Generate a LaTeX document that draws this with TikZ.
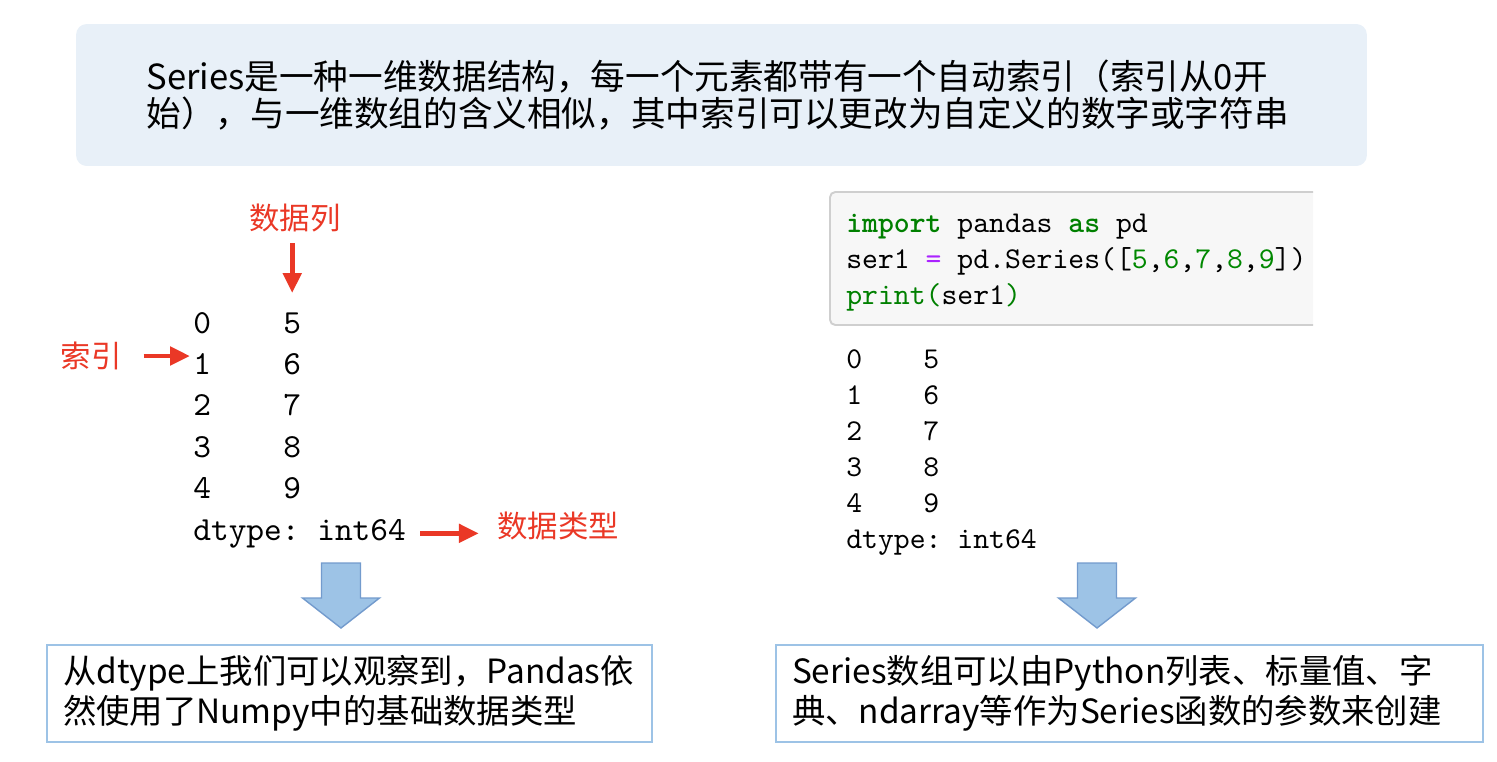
\documentclass[tikz,border=0pt]{standalone}
\usepackage{fontspec}
\setmainfont{Noto Sans CJK SC}
\newfontfamily\codefont{lmmono10-regular.otf}[BoldFont=lmmonolt10-bold.otf]
\usetikzlibrary{arrows.meta,calc,positioning}
\definecolor{topfill}{RGB}{232,240,248}
\definecolor{noteblue}{RGB}{157,195,230}
\definecolor{arrowedge}{RGB}{115,155,205}
\definecolor{labelred}{RGB}{234,56,38}
\definecolor{cellfill}{RGB}{247,247,247}
\definecolor{celledge}{RGB}{207,207,207}
\definecolor{kwgreen}{RGB}{0,128,0}
\definecolor{oppurple}{RGB}{170,34,255}
\definecolor{numgreen}{RGB}{0,136,0}
\newcommand{\kw}[1]{\textcolor{kwgreen}{\bfseries #1}}
\newcommand{\num}[1]{\textcolor{numgreen}{#1}}
\tikzset{topbox/.style={fill=topfill,rounded corners=6pt,minimum width=25.82cm,minimum height=2.84cm,
    text width=23cm,align=left,inner sep=0pt,font=\fontsize{19.7}{21.5}\selectfont},
  notebox/.style={draw=noteblue,line width=1.1pt,fill=white,minimum height=1.94cm,inner sep=0pt,
    align=left,font=\fontsize{19}{22.7}\selectfont},
  redlbl/.style={text=labelred,inner sep=0pt,font=\fontsize{17.3}{20}\selectfont},
  redarr/.style={-{Triangle[length=4mm,width=3.6mm]},draw=labelred,line width=2.8pt},
  outbig/.style={anchor=base west,inner sep=0pt,font=\codefont\fontsize{19.2}{23}\selectfont},
  outsmall/.style={anchor=base west,inner sep=0pt,font=\codefont\fontsize{17.2}{20}\selectfont},
  bigarrow/.style={fill=noteblue,draw=arrowedge,line width=0.8pt}}

\begin{document}
\begin{tikzpicture}[x=0.02cm,y=-0.02cm]
\useasboundingbox (0,0) rectangle (1497,761);
\node[topbox] (intro) at (721.5,95) {Series是一种一维数据结构，每一个元素都带有一个自动索引（索引从0开\\始），与一维数组的含义相似，其中索引可以更改为自定义的数字或字符串};

% printed series, left
\foreach \i/\v in {0/5,1/6,2/7,3/8,4/9} {
  \node[outbig] (lidx\i) at (193,{333+41.4*\i}) {\i};
  \node[outbig] (lval\i) at (283,{333+41.4*\i}) {\v};
}
\node[outbig] (ldtype) at (193,540) {dtype:\ int64};

\node[redlbl] (collabel) at (295,218) {数据列};
\node[redlbl] (idxlabel) at (91,356) {索引};
\node[redlbl] (typelabel) at (558,526) {数据类型};
\draw[redarr,shorten <=0.22cm,shorten >=0.38cm] (collabel.south -| lval0.north) -- (lval0.north);
\draw[redarr,shorten <=0.44cm,shorten >=0.06cm] (idxlabel.east) -- (idxlabel.east -| lidx1.west);
\draw[redarr,shorten <=0.28cm,shorten >=0.36cm] (ldtype.east) -- (ldtype.east -| typelabel.west);

% code cell, right
\path[fill=cellfill,draw=celledge,line width=1.1pt,rounded corners=3pt] (1313,192) -- (830,192) -- (830,325) -- (1313,325);
\node[outsmall] (code1) at (846,232) {\kw{import} pandas \kw{as} pd};
\node[outsmall] (code2) at (846,268) {ser1 \textcolor{oppurple}{=} pd.Series([\num{5},\num{6},\num{7},\num{8},\num{9}])};
\node[outsmall] (code3) at (846,304) {\textcolor{kwgreen}{print(}ser1\textcolor{kwgreen}{)}};
\foreach \i/\v in {0/5,1/6,2/7,3/8,4/9} {
  \node[outsmall] (ridx\i) at (846,{368+36*\i}) {\i};
  \node[outsmall] (rval\i) at (923,{368+36*\i}) {\v};
}
\node[outsmall] (rdtype) at (846,548) {dtype:\ int64};

% block arrows
\foreach \ax in {341,1097}
  \draw[bigarrow] ({\ax-19.5},563) -- ({\ax+19.5},563) -- ({\ax+19.5},598) -- ({\ax+38.5},598)
    -- (\ax,628) -- ({\ax-38.5},598) -- ({\ax-19.5},598) -- cycle;

\node[notebox,minimum width=12.1cm,text width=11.46cm] (lnote) at (349.5,693.5) {从dtype上我们可以观察到，Pandas依\\然使用了Numpy中的基础数据类型};
\node[notebox,minimum width=14.14cm,text width=13.5cm] (rnote) at (1129.5,693.5) {Series数组可以由Python列表、标量值、字\\典、ndarray等作为Series函数的参数来创建};
\end{tikzpicture}
\end{document}
